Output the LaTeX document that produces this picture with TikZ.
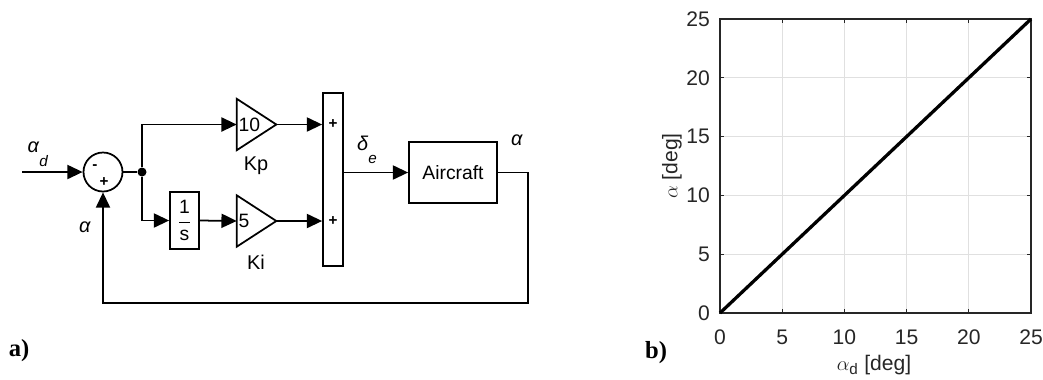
\documentclass[tikz,border=0pt]{standalone}
\usepackage{fontspec}
\setmainfont{Liberation Sans}
\newfontfamily\panelfont{Liberation Serif}
\usetikzlibrary{arrows.meta,positioning}
\definecolor{AxisGray}{HTML}{262626}
\definecolor{GridGray}{HTML}{E0E0E0}

\begin{document}
\begin{tikzpicture}[x=0.03cm,y=-0.03cm,
  wire/.style={line width=1.5pt},
  sig/.style={wire,-{Triangle[length=13pt,width=12pt]}},
  txt/.style={font=\fontsize{17}{20}\selectfont,inner sep=0pt},
  sgn/.style={font=\fontsize{13}{14}\selectfont\bfseries,inner sep=0pt},
  sumcirc/.style={draw,wire,circle,minimum size=1.17cm,inner sep=0pt},
  blk/.style={draw,wire,inner sep=0pt,font=\fontsize{16.5}{19}\selectfont},
  gainbox/.style={inner sep=0pt,inner xsep=1.5pt,minimum width=1.17cm,minimum height=1.53cm,text width=1.07cm,align=left,font=\fontsize{16.5}{19}\selectfont},
  junction/.style={circle,fill,minimum size=0.27cm,inner sep=0pt},
  ticklbl/.style={font=\fontsize{18}{21}\selectfont,text=AxisGray,inner sep=0pt},
  panel/.style={font=\fontsize{21}{24}\selectfont\panelfont\bfseries,inner sep=0pt}
]
\useasboundingbox (0,0) rectangle (1043,379);

\coordinate (in) at (22,172);
\node[sumcirc] (sum) at (103,172) {};
\node[sgn] (minus) at (95,167) {-};
\node[sgn] (plus) at (104,182) {+};
\node[junction] (split) at (142,172) {};
\node[gainbox] (kp) at (256.5,124.5) {10};
\node[blk,minimum width=0.87cm,minimum height=1.71cm] (integ) at (184.5,220.5) {$\displaystyle\frac{\mbox{\fontsize{16.5}{19}\selectfont 1}}{\mbox{\fontsize{16.5}{19}\selectfont s}}$};
\node[gainbox] (ki) at (256.5,221) {5};
\node[blk,minimum width=0.6cm,minimum height=5.19cm] (bar) at (333,179.5) {};
\node[sgn] (barplus1) at (333,124.5) {+};
\node[sgn] (barplus2) at (333,221) {+};
\node[blk,minimum width=2.64cm,minimum height=1.83cm] (air) at (453,172.5) {Aircraft};
\coordinate (fbk) at (528,303);

\draw[wire] (kp.north west) -- (kp.east) -- (kp.south west) -- cycle;
\draw[wire] (ki.north west) -- (ki.east) -- (ki.south west) -- cycle;

\node[txt] (kplbl) at (256,166) {Kp};
\node[txt] (kilbl) at (256,262) {Ki};
\node[txt] (alphad) at (38,154) {\textit{α}\raisebox{-1.3ex}{\fontsize{13}{14}\selectfont\textit{d}}};
\node[txt] (deltae) at (367,150) {\textit{δ}\raisebox{-1.3ex}{\fontsize{13}{14}\selectfont\textit{e}}};
\node[txt] (alphaout) at (517,140) {\textit{α}};
\node[txt] (alphafb) at (85,227) {\textit{α}};

\draw[sig] (in) -- (sum.west);
\draw[wire] (sum.east) -- (split);
\draw[sig] (split) |- (kp.west);
\draw[sig] (split) |- (integ.west);
\draw[sig] (integ.east) -- (ki.west);
\draw[sig] (kp.east) -- (kp.east -| bar.west);
\draw[sig] (ki.east) -- (ki.east -| bar.west);
\draw[sig] (bar.east |- air.west) -- (air.west);
\draw[sig] (air.east) -| (fbk) -| (sum.south);

\node[panel] (pa) at (19,351) {a)};
\node[panel] (pb) at (656,353) {b)};

\begin{scope}[shift={(720,313)},xscale=12.44,yscale=-11.76]
  \foreach \v in {5,10,15,20}{
    \draw[GridGray,line width=0.8pt] (\v,0) -- (\v,25);
    \draw[GridGray,line width=0.8pt] (0,\v) -- (25,\v);
  }
  \draw[AxisGray,line width=1pt] (0,0) rectangle (25,25);
  \foreach \v in {0,5,...,25}{
    \draw[AxisGray,line width=1pt] (\v,0) -- ++(0,0.3) (\v,25) -- ++(0,-0.3);
    \draw[AxisGray,line width=1pt] (0,\v) -- ++(0.3,0) (25,\v) -- ++(-0.3,0);
    \node[ticklbl] at (\v,-2.04) {\v};
    \node[ticklbl,anchor=east] at (-0.8,\v) {\v};
  }
  \draw[black,line width=2.8pt] (0,0) -- (25,25);
\end{scope}

\node[ticklbl,rotate=90] (ylbl) at (672,166) {$\alpha$ [deg]};
\node[ticklbl] (xlbl) at (874,365) {$\alpha_{\mbox{\fontsize{13}{14}\selectfont d}}$ [deg]};
\end{tikzpicture}
\end{document}
